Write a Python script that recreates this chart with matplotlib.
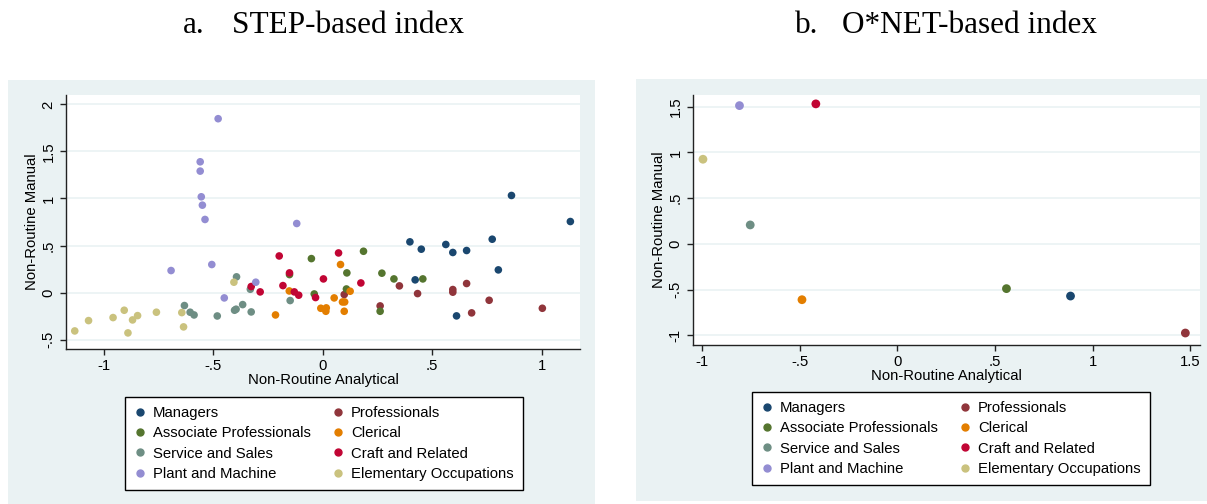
import matplotlib
matplotlib.use("Agg")
import matplotlib.pyplot as plt
from matplotlib.patches import Rectangle
from matplotlib.lines import Line2D

plt.rcParams['font.family'] = ['Liberation Sans', 'DejaVu Sans']

groups = ["Managers", "Professionals", "Associate Professionals", "Clerical",
          "Service and Sales", "Craft and Related", "Plant and Machine",
          "Elementary Occupations"]
colors = ["#1a476f", "#90353b", "#55752f", "#e37e00",
          "#6e8e84", "#c10534", "#938dd2", "#cac27e"]

# Panel a: STEP-based index (x = Non-Routine Analytical, y = Non-Routine Manual)
step_managers_x = [0.862, 1.131, 0.774, 0.398, 0.450, 0.562, 0.594, 0.657, 0.802, 0.422, 0.611]
step_managers_y = [1.032, 0.755, 0.567, 0.539, 0.461, 0.511, 0.426, 0.447, 0.241, 0.135, -0.248]
step_prof_x = [0.350, 0.433, 0.594, 0.594, 0.657, 0.760, 0.680, 1.003, 0.262, 0.098]
step_prof_y = [0.071, -0.011, 0.032, 0.004, 0.096, -0.082, -0.216, -0.167, -0.142, -0.021]
step_assoc_x = [-0.052, 0.186, 0.110, 0.270, 0.325, 0.457, 0.108, -0.039, 0.262, -0.152]
step_assoc_y = [0.361, 0.439, 0.209, 0.206, 0.145, 0.145, 0.038, -0.015, -0.199, 0.191]
step_cler_x = [0.081, -0.153, 0.052, 0.125, 0.090, 0.100, -0.009, 0.016, 0.014, 0.098, -0.216]
step_cler_y = [0.298, 0.017, -0.057, 0.014, -0.100, -0.100, -0.167, -0.163, -0.199, -0.199, -0.238]
step_serv_x = [-0.394, -0.331, -0.632, -0.366, -0.606, -0.588, -0.482, -0.403, -0.396, -0.327, -0.149]
step_serv_y = [0.167, 0.035, -0.138, -0.128, -0.209, -0.238, -0.249, -0.188, -0.177, -0.206, -0.085]
step_craft_x = [-0.199, 0.072, -0.152, 0.003, 0.174, -0.182, -0.327, -0.286, -0.130, -0.110, -0.033]
step_craft_y = [0.389, 0.421, 0.209, 0.145, 0.102, 0.074, 0.064, 0.007, 0.007, -0.028, -0.053]
step_plant_x = [-0.478, -0.560, -0.560, -0.555, -0.550, -0.538, -0.119, -0.507, -0.693, -0.306, -0.450]
step_plant_y = [1.848, 1.390, 1.291, 1.018, 0.929, 0.777, 0.734, 0.298, 0.234, 0.110, -0.057]
step_elem_x = [-1.133, -1.070, -0.958, -0.907, -0.869, -0.846, -0.890, -0.760, -0.644, -0.636, -0.406]
step_elem_y = [-0.408, -0.298, -0.266, -0.188, -0.291, -0.245, -0.429, -0.209, -0.213, -0.365, 0.110]

step_x = [step_managers_x, step_prof_x, step_assoc_x, step_cler_x,
          step_serv_x, step_craft_x, step_plant_x, step_elem_x]
step_y = [step_managers_y, step_prof_y, step_assoc_y, step_cler_y,
          step_serv_y, step_craft_y, step_plant_y, step_elem_y]

# Panel b: O*NET-based index (one point per group, same order as groups)
onet_x = [0.887, 1.475, 0.559, -0.488, -0.753, -0.417, -0.808, -0.995]
onet_y = [-0.569, -0.973, -0.488, -0.609, 0.208, 1.531, 1.512, 0.926]

a_xticks = [-1, -0.5, 0, 0.5, 1]
a_xticklabels = ["-1", "-.5", "0", ".5", "1"]
a_yticks = [-0.5, 0, 0.5, 1, 1.5, 2]
a_yticklabels = ["-.5", "0", ".5", "1", "1.5", "2"]
b_xticks = [-1, -0.5, 0, 0.5, 1, 1.5]
b_xticklabels = ["-1", "-.5", "0", ".5", "1", "1.5"]
b_yticks = [-1, -0.5, 0, 0.5, 1, 1.5]
b_yticklabels = ["-1", "-.5", "0", ".5", "1", "1.5"]

W, H = 1207, 504
BG = "#eaf2f3"
FS = 10.7
fig = plt.figure(figsize=(W / 100, H / 100), dpi=100)


def fx(px):
    return px / W


def fy(py):
    return 1 - py / H


def add_ax(l, t, r, b):
    ax = fig.add_axes([fx(l), fy(b), fx(r) - fx(l), fy(t) - fy(b)])
    ax.set_zorder(2)
    return ax


# panel backgrounds
fig.patches.append(Rectangle((fx(8), fy(504)), fx(595) - fx(8), fy(80) - fy(504),
                             transform=fig.transFigure, facecolor=BG, edgecolor='none', zorder=-5))
fig.patches.append(Rectangle((fx(636), fy(501)), fx(1207) - fx(636), fy(79) - fy(501),
                             transform=fig.transFigure, facecolor=BG, edgecolor='none', zorder=-5))

# titles
tfont = dict(family=['Liberation Serif', 'DejaVu Serif'], fontsize=22.5, va='baseline', ha='left')
fig.text(fx(183), fy(33), "a.", **tfont)
fig.text(fx(232), fy(33), "STEP-based index", **tfont)
fig.text(fx(795), fy(33), "b.", **tfont)
fig.text(fx(842), fy(33), "O*NET-based index", **tfont)


def style(ax, xt, xtl, yt, ytl):
    ax.set_facecolor('white')
    for s in ['top', 'right']:
        ax.spines[s].set_visible(False)
    for s in ['left', 'bottom']:
        ax.spines[s].set_color('#222222')
        ax.spines[s].set_linewidth(1.0)
    ax.set_xticks(xt)
    ax.set_xticklabels(xtl)
    ax.set_yticks(yt)
    ax.set_yticklabels(ytl, rotation=90, va='center')
    ax.tick_params(axis='both', direction='out', length=4.5, width=1.0,
                   color='#222222', labelsize=FS, pad=3)
    ax.yaxis.grid(True, color=BG, linewidth=1.2)
    ax.set_axisbelow(True)
    ax.set_xlabel("Non-Routine Analytical", fontsize=FS, labelpad=0)
    ax.set_ylabel("Non-Routine Manual", fontsize=FS, labelpad=2)


def add_legend(ax, l, t):
    handles = [Line2D([], [], marker='o', linestyle='none', markersize=5,
                      markerfacecolor=c, markeredgecolor=c) for c in colors]
    order = [0, 2, 4, 6, 1, 3, 5, 7]
    leg = ax.legend([handles[i] for i in order], [groups[i] for i in order],
                    ncol=2, loc='upper left',
                    bbox_to_anchor=(fx(l), fy(t)), bbox_transform=fig.transFigure,
                    fontsize=FS, frameon=True, fancybox=False, framealpha=1,
                    edgecolor='black', handlelength=0.75, handletextpad=0.5,
                    columnspacing=1.45, labelspacing=0.42, borderpad=0.62,
                    borderaxespad=0)
    leg.get_frame().set_linewidth(1.0)


# Panel a
axa = add_ax(66, 95, 580, 349)
for xs, ys, c in zip(step_x, step_y, colors):
    axa.scatter(xs, ys, s=30, color=c, edgecolors='none', zorder=3)
axa.set_xlim(-1.173, 1.175)
axa.set_ylim(-0.60, 2.10)
style(axa, a_xticks, a_xticklabels, a_yticks, a_yticklabels)
add_legend(axa, 125, 397)

# Panel b
axb = add_ax(693, 95, 1200, 345)
for x, y, c in zip(onet_x, onet_y, colors):
    axb.scatter([x], [y], s=40, color=c, edgecolors='none', zorder=3)
axb.set_xlim(-1.046, 1.55)
axb.set_ylim(-1.104, 1.628)
style(axb, b_xticks, b_xticklabels, b_yticks, b_yticklabels)
add_legend(axb, 752, 392)

fig.savefig("out.png", dpi=100, facecolor='white')
